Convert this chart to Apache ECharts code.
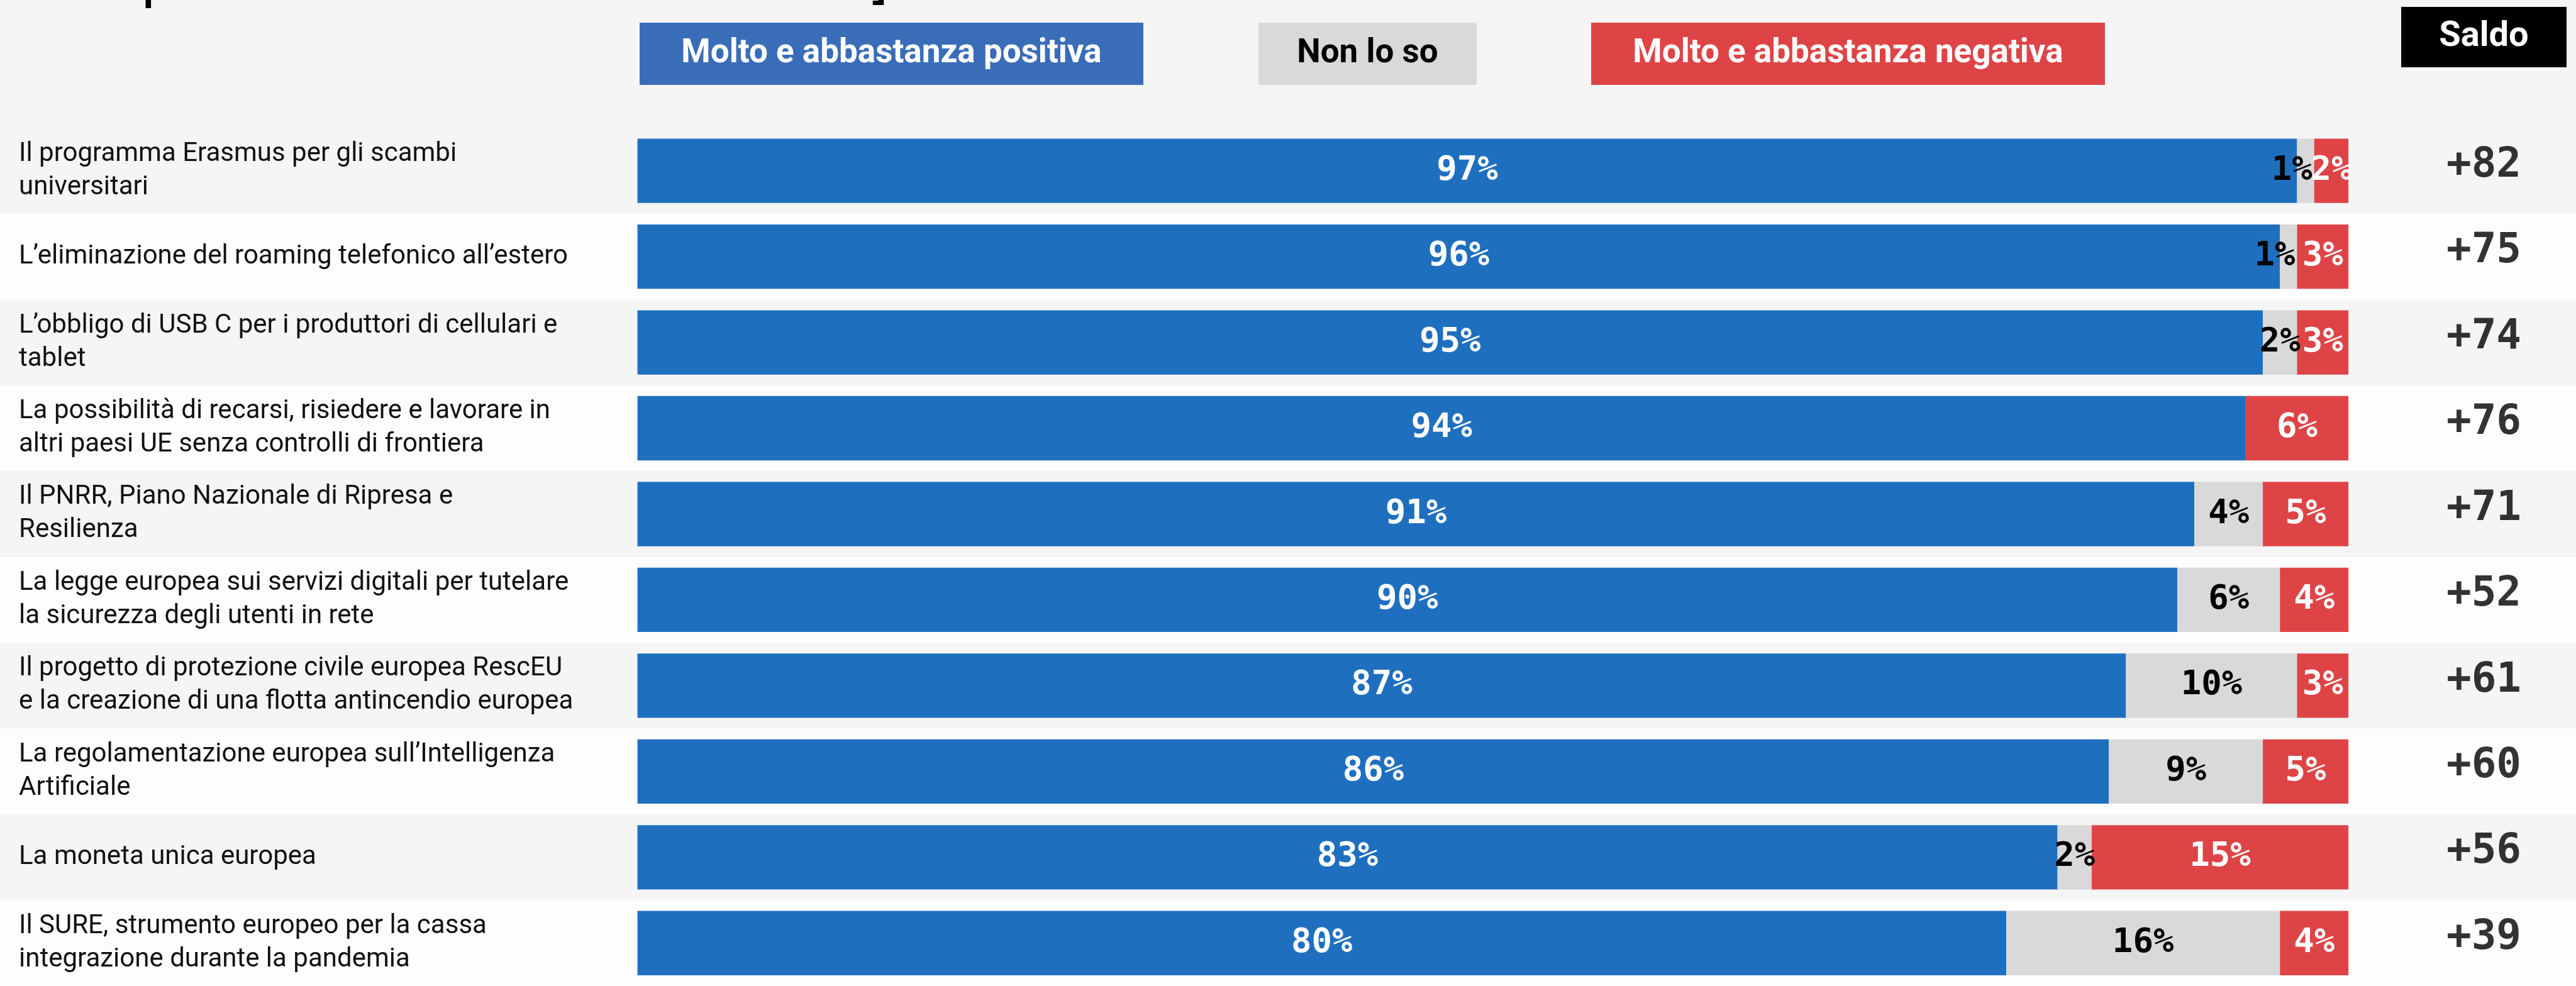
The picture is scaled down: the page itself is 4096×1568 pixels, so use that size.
<!DOCTYPE html>
<html lang="it">
<head>
<meta charset="utf-8">
<title>Giudizio sulle iniziative UE</title>
<script src="https://cdn.jsdelivr.net/npm/echarts@6/dist/echarts.min.js"></script>
<style>
  html, body { margin: 0; padding: 0; background: #f5f5f5; }
  #chart { width: 4096px; height: 1568px; }
</style>
</head>
<body>
<div id="chart"></div>
<script>
// dati
const categories = [
  'Il programma Erasmus per gli scambi\nuniversitari',
  'L’eliminazione del roaming telefonico all’estero',
  'L’obbligo di USB C per i produttori di cellulari e\ntablet',
  'La possibilità di recarsi, risiedere e lavorare in\naltri paesi UE senza controlli di frontiera',
  'Il PNRR, Piano Nazionale di Ripresa e\nResilienza',
  'La legge europea sui servizi digitali per tutelare\nla sicurezza degli utenti in rete',
  'Il progetto di protezione civile europea RescEU\ne la creazione di una flotta antincendio europea',
  'La regolamentazione europea sull’Intelligenza\nArtificiale',
  'La moneta unica europea',
  'Il SURE, strumento europeo per la cassa\nintegrazione durante la pandemia'
];
const positive = [97, 96, 95, 94, 91, 90, 87, 86, 83, 80];
const unsure = [1, 1, 2, 0, 4, 6, 10, 9, 2, 16];
const negative = [2, 3, 3, 6, 5, 4, 3, 5, 15, 4];
const saldo = [82, 75, 74, 76, 71, 52, 61, 60, 56, 39];
const seriesNames = ['Molto e abbastanza positiva', 'Non lo so', 'Molto e abbastanza negativa'];

const BLUE = '#1f6fbf';
const GREY = '#d9d9d9';
const RED = '#de4446';

const chart = echarts.init(document.getElementById('chart'));

// layout
const TOP = 203.4;
const ROW_H = 138.33;
const GRID_H = ROW_H * categories.length;
const BAR_LEFT = 1013.6;
const BAR_W = 2720.5;

const pctLabel = (color) => ({
  show: true,
  position: 'inside',
  color: color,
  fontFamily: 'DejaVu Sans Mono',
  fontWeight: 'bold',
  fontSize: 54,
  formatter: (p) => (p.value > 0 ? p.value + '%' : '')
});

// riquadri della legenda
const legendBox = (x, y, w, h, fill, text, textColor, size) => [
  { type: 'rect', shape: { x: x, y: y, width: w, height: h }, style: { fill: fill } },
  {
    type: 'text', x: x + w / 2, y: y + h / 2,
    style: {
      text: text, fill: textColor, font: 'bold ' + size + 'px Roboto',
      align: 'center', verticalAlign: 'middle'
    }
  }
];

const hiddenCat = (grid, extra) => Object.assign({
  type: 'category',
  gridIndex: grid,
  data: categories,
  inverse: true,
  axisLine: { show: false },
  axisTick: { show: false },
  axisLabel: { show: false }
}, extra || {});

const option = {
  backgroundColor: '#f5f5f5',
  animation: false,
  grid: [
    { left: 0, right: 0, top: TOP, height: GRID_H },
    { left: BAR_LEFT, width: BAR_W, top: TOP, height: GRID_H },
    { left: 3818, width: 263, top: TOP, height: GRID_H }
  ],
  xAxis: [
    { type: 'value', gridIndex: 0, show: false, min: 0, max: 1 },
    { type: 'value', gridIndex: 1, show: false, min: 0, max: 100 },
    { type: 'value', gridIndex: 2, show: false, min: 0, max: 1 }
  ],
  yAxis: [
    hiddenCat(0, { splitArea: { show: true, areaStyle: { color: ['#f5f5f5', '#fdfdfd'] } } }),
    hiddenCat(1, {
      axisLabel: {
        show: true,
        interval: 0,
        align: 'left',
        margin: BAR_LEFT - 30,
        fontFamily: 'Roboto',
        fontSize: 42,
        lineHeight: 53,
        color: '#111'
      }
    }),
    hiddenCat(2)
  ],
  graphic: [
    // titolo tagliato in alto
    {
      type: 'text', x: 34, y: -30,
      style: {
        text: 'Europea e il suo funzionamento ]', fill: '#000',
        font: '95px Roboto', align: 'left', verticalAlign: 'middle'
      }
    },
    ...legendBox(1017, 36, 801, 99, '#3a6db8', seriesNames[0], '#fff', 53),
    ...legendBox(2001, 36, 347, 99, GREY, seriesNames[1], '#000', 53),
    ...legendBox(2530, 36, 817, 99, RED, seriesNames[2], '#fff', 53),
    ...legendBox(3818, 11, 263, 96, '#000', 'Saldo', '#fff', 56)
  ],
  series: [
    {
      name: seriesNames[0], type: 'bar', stack: 'tot',
      xAxisIndex: 1, yAxisIndex: 1, barCategoryGap: '25%',
      itemStyle: { color: BLUE },
      label: pctLabel('#fff'),
      data: positive
    },
    {
      name: seriesNames[1], type: 'bar', stack: 'tot',
      xAxisIndex: 1, yAxisIndex: 1, barCategoryGap: '25%',
      itemStyle: { color: GREY },
      label: pctLabel('#000'),
      // le etichette dell'1% stanno a filo del bordo destro
      data: unsure.map((v) => (v === 1 ? { value: v, label: { position: 'insideRight', distance: 3 } } : v))
    },
    {
      name: seriesNames[2], type: 'bar', stack: 'tot',
      xAxisIndex: 1, yAxisIndex: 1, barCategoryGap: '25%',
      itemStyle: { color: RED },
      label: pctLabel('#fff'),
      data: negative
    },
    {
      name: 'Saldo', type: 'scatter',
      xAxisIndex: 2, yAxisIndex: 2,
      symbolSize: 1,
      itemStyle: { color: 'rgba(0,0,0,0)' },
      label: {
        show: true,
        position: 'inside',
        offset: [0, -8],
        color: '#000',
        fontFamily: 'DejaVu Sans Mono',
        fontWeight: 'bold',
        fontSize: 66,
        formatter: (p) => (p.value[2] > 0 ? '+' : '') + p.value[2]
      },
      data: saldo.map((v, i) => [0.5, i, v])
    }
  ]
};

chart.setOption(option);
</script>
</body>
</html>
